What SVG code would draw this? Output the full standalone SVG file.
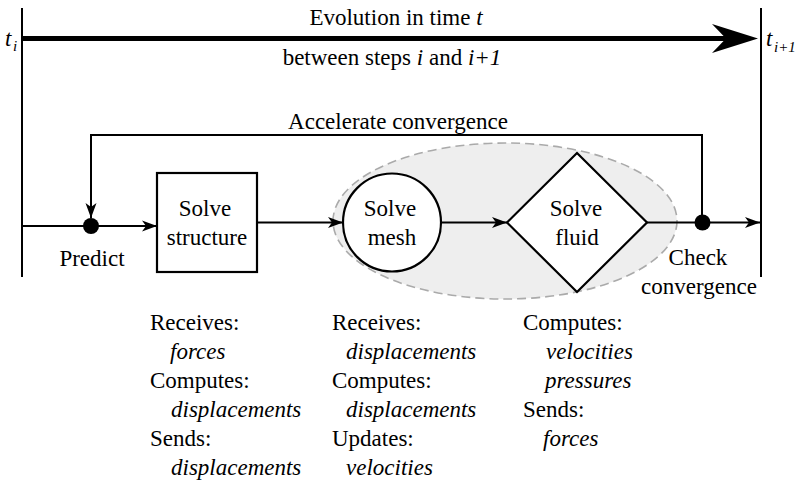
<svg xmlns="http://www.w3.org/2000/svg" width="798" height="484" viewBox="0 0 798 484">
  <style>
    text { font-family: "Liberation Serif", "Times New Roman", Times, serif; font-size: 23px; fill: #000; }
    .it { font-style: italic; }
    .mid { text-anchor: middle; }
    .sub { font-size: 15px; font-style: italic; }
    .line { fill: none; stroke: #000; stroke-width: 2; }
    .shape { fill: #fff; stroke: #000; stroke-width: 2.2; }
  </style>
  <defs>
    <marker id="arrow" markerUnits="userSpaceOnUse" markerWidth="16" markerHeight="12" refX="15" refY="6" orient="auto">
      <path d="M0,0.5 L15,6 L0,11.5 L4,6 Z" fill="#000"/>
    </marker>
  </defs>

  <rect width="798" height="484" fill="#fff"/>

  <!-- time boundaries -->
  <g id="time-axis">
    <line x1="22" y1="8" x2="22" y2="277" stroke="#000" stroke-width="2"/>
    <line x1="761" y1="8" x2="761" y2="277" stroke="#000" stroke-width="2"/>
    <line x1="22" y1="38.5" x2="727" y2="38.5" stroke="#000" stroke-width="5"/>
    <path d="M712,24 L758,38.5 L712,53 L726,38.5 Z" fill="#000"/>
    <text class="mid" x="396" y="25">Evolution in time <tspan class="it">t</tspan></text>
    <text class="mid" x="392" y="65">between steps <tspan class="it">i</tspan> and <tspan class="it">i+1</tspan></text>
    <text class="it" x="5" y="46">t</text>
    <text class="sub" x="13" y="51">i</text>
    <text class="it" x="766" y="46">t</text>
    <text class="sub" x="774" y="52">i+1</text>
  </g>

  <!-- coupled mesh/fluid region -->
  <g id="fluid-region">
    <ellipse cx="505" cy="221" rx="172" ry="78" fill="#eeeeee" stroke="#aaaaaa" stroke-width="1.6" stroke-dasharray="9,5"/>
  </g>

  <!-- connectors -->
  <g id="connectors">
    <line class="line" x1="22" y1="226" x2="157" y2="226" marker-end="url(#arrow)"/>
    <line class="line" x1="257" y1="222.5" x2="343" y2="222.5" marker-end="url(#arrow)"/>
    <line class="line" x1="441" y1="222.5" x2="507" y2="222.5" marker-end="url(#arrow)"/>
    <line class="line" x1="647" y1="222.5" x2="760" y2="222.5" marker-end="url(#arrow)"/>
    <path class="line" d="M702,222.5 V135 H91 V218" marker-end="url(#arrow)"/>
    <text class="mid" x="398" y="129">Accelerate convergence</text>
  </g>

  <g id="predict">
    <circle cx="91" cy="226" r="8" fill="#000"/>
    <text class="mid" x="92" y="266">Predict</text>
  </g>

  <g id="solve-structure">
    <rect class="shape" x="157" y="173" width="100" height="99"/>
    <text class="mid" x="205" y="216">Solve</text>
    <text class="mid" x="207" y="245">structure</text>
  </g>

  <g id="solve-mesh">
    <circle class="shape" cx="392" cy="222.5" r="49"/>
    <text class="mid" x="390" y="216">Solve</text>
    <text class="mid" x="392" y="245">mesh</text>
  </g>

  <g id="solve-fluid">
    <polygon class="shape" points="577,153 647,222.5 577,292 507,222.5"/>
    <text class="mid" x="576" y="216">Solve</text>
    <text class="mid" x="577" y="245">fluid</text>
  </g>

  <g id="check-convergence">
    <circle cx="702.5" cy="222.5" r="8" fill="#000"/>
    <text class="mid" x="698" y="265">Check</text>
    <text class="mid" x="699" y="294">convergence</text>
  </g>

  <!-- per-solver data exchange -->
  <g id="structure-notes">
    <text x="150" y="330">Receives:</text>
    <text class="it" x="170" y="359">forces</text>
    <text x="150" y="388">Computes:</text>
    <text class="it" x="171" y="417">displacements</text>
    <text x="150" y="446">Sends:</text>
    <text class="it" x="171" y="475">displacements</text>
  </g>

  <g id="mesh-notes">
    <text x="332" y="330">Receives:</text>
    <text class="it" x="346" y="359">displacements</text>
    <text x="332" y="388">Computes:</text>
    <text class="it" x="346" y="417">displacements</text>
    <text x="332" y="446">Updates:</text>
    <text class="it" x="346" y="475">velocities</text>
  </g>

  <g id="fluid-notes">
    <text x="523" y="330">Computes:</text>
    <text class="it" x="546" y="359">velocities</text>
    <text class="it" x="545" y="388">pressures</text>
    <text x="523" y="417">Sends:</text>
    <text class="it" x="543" y="446">forces</text>
  </g>
</svg>
